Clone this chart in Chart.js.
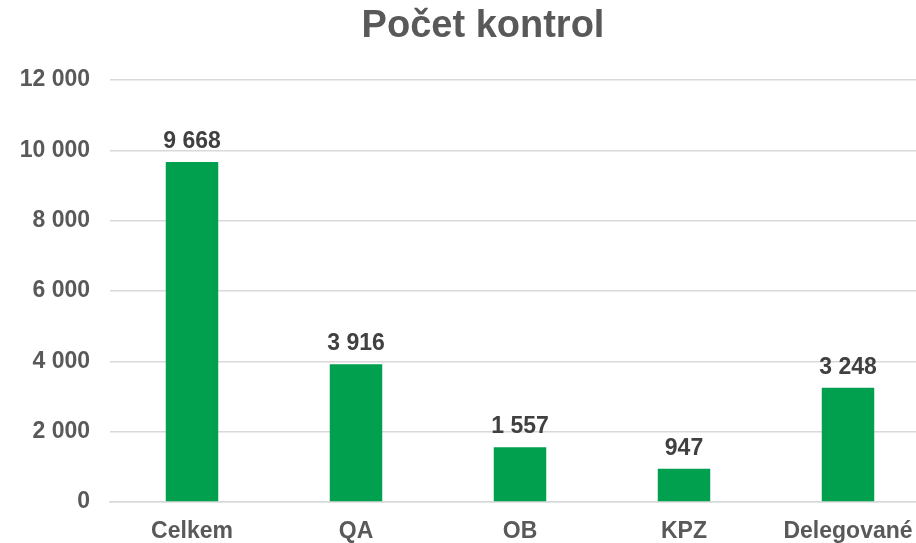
<!DOCTYPE html>
<html>
<head>
<meta charset="utf-8">
<script src="https://cdn.jsdelivr.net/npm/chart.js@4"></script>
<style>
  html, body { margin: 0; padding: 0; background: #fff; }
  #wrap { width: 916px; height: 543px; overflow: hidden; }
</style>
</head>
<body>
<div id="wrap"><canvas id="myChart" width="940" height="543"></canvas></div>
<script>
const categories = ['Celkem', 'QA', 'OB', 'KPZ', 'Delegované'];
const counts = [9668, 3916, 1557, 947, 3248];
const yTicks = [0, 2000, 4000, 6000, 8000, 10000, 12000];
const chartTitle = 'Počet kontrol';

function fmt(v) {
    return String(v).replace(/\B(?=(\d{3})+(?!\d))/g, ' ');
}

// value labels above the bars + title centred like in the original
const barLabels = {
    id: 'barLabels',
    afterDatasetsDraw(chart) {
        const ctx = chart.ctx;
        const meta = chart.getDatasetMeta(0);
        ctx.save();
        ctx.font = 'bold 23px "Liberation Sans", Arial, sans-serif';
        ctx.fillStyle = '#404040';
        ctx.textAlign = 'center';
        ctx.textBaseline = 'bottom';
        meta.data.forEach(function (bar, i) {
            ctx.fillText(fmt(counts[i]), bar.x, bar.y - 9);
        });
        ctx.font = 'bold 38px "Liberation Sans", Arial, sans-serif';
        ctx.fillStyle = '#595959';
        ctx.textBaseline = 'middle';
        ctx.fillText(chartTitle, 483, 27);
        ctx.restore();
    }
};

var ctx = document.getElementById('myChart').getContext('2d');
var myChart = new Chart(ctx, {
    type: 'bar',
    data: {
        labels: categories,
        datasets: [{
            label: chartTitle,
            data: counts,
            backgroundColor: '#00A04F',
            barPercentage: 0.32,
            categoryPercentage: 1
        }]
    },
    options: {
        responsive: false,
        animation: false,
        layout: { padding: { left: 0, right: 10, top: 80, bottom: 0 } },
        scales: {
            y: {
                min: 0,
                max: 12000,
                afterBuildTicks: function (scale) {
                    scale.ticks = yTicks.map(v => ({ value: v }));
                },
                afterFit: function (scale) { scale.width = 110; },
                grid: { color: '#d9d9d9', lineWidth: 1.5, drawTicks: false },
                border: { display: false },
                ticks: {
                    padding: 20,
                    color: '#595959',
                    font: { family: '"Liberation Sans", Arial, sans-serif', size: 23, weight: 'bold' },
                    callback: v => fmt(v)
                }
            },
            x: {
                afterFit: function (scale) { scale.height = 41; },
                grid: { display: false, drawTicks: false },
                border: { color: '#d9d9d9', width: 1.5 },
                ticks: {
                    padding: 16,
                    color: '#595959',
                    maxRotation: 0,
                    font: { family: '"Liberation Sans", Arial, sans-serif', size: 23, weight: 'bold' }
                }
            }
        },
        plugins: {
            legend: { display: false },
            tooltip: { enabled: false },
            title: { display: false }
        }
    },
    plugins: [barLabels]
});
</script>
</body>
</html>
